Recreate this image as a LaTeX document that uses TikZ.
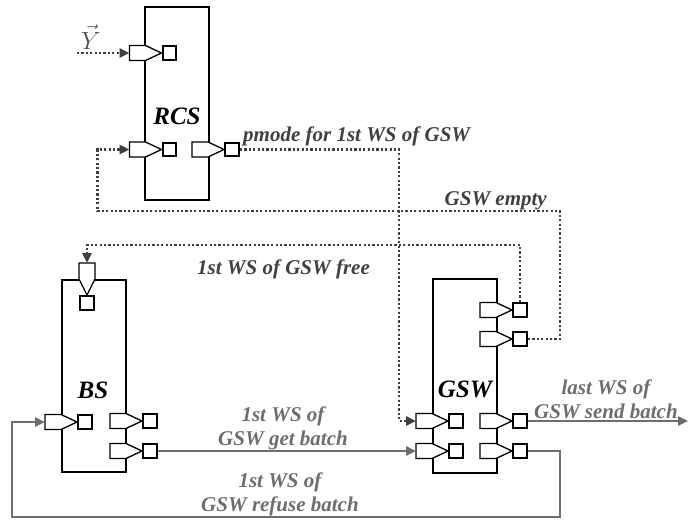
\documentclass[tikz,border=0pt]{standalone}
\usepackage{fontspec}
\setmainfont{Liberation Serif}
\usetikzlibrary{arrows.meta, positioning}

\definecolor{sigdark}{HTML}{404040}
\definecolor{siggray}{HTML}{6E6E6E}

% port pointing east: #1 name, #2 x and #3 y of its square
\newcommand{\portE}[3]{%
  \draw[portshape] (#2-40,#3-7.5) -- (#2-24,#3-7.5) -- (#2-8,#3)
    -- (#2-24,#3+7.5) -- (#2-40,#3+7.5) -- cycle;
  \coordinate (#1-in) at (#2-40,#3);
  \node[portsq] (#1) at (#2,#3) {};
}
% port pointing south
\newcommand{\portS}[3]{%
  \draw[portshape] (#2-8,#3-40) -- (#2-8,#3-24) -- (#2,#3-8)
    -- (#2+8,#3-24) -- (#2+8,#3-40) -- cycle;
  \coordinate (#1-in) at (#2,#3-40);
  \node[portsq] (#1) at (#2,#3) {};
}

\begin{document}
\begin{tikzpicture}[x=1pt, y=-1pt,
    block/.style={draw, line width=2.6pt, minimum width=64pt, inner sep=0pt},
    blocklabel/.style={font=\fontsize{25}{27}\selectfont\bfseries\itshape},
    portshape/.style={draw, fill=white, line width=1.3pt},
    portsq/.style={draw, fill=white, line width=2.4pt, minimum size=13.5pt, inner sep=0pt},
    sigline/.style={draw=sigdark, line width=2.5pt, dash pattern=on 2.2pt off 2.2pt,
      -{Triangle[length=10pt, width=9pt]}},
    dataline/.style={draw=siggray, line width=2.4pt,
      -{Triangle[length=10pt, width=9pt]}},
    siglabel/.style={sigdark, inner sep=0pt, font=\fontsize{21}{24}\selectfont\bfseries\itshape},
    datalabel/.style={siggray, inner sep=0pt, align=center,
      font=\fontsize{21}{24}\selectfont\bfseries\itshape}]
  \useasboundingbox (0,0) rectangle (689,520);

  % blocks
  \node[block, minimum height=193pt] (rcs) at (177,103.5) {};
  \node[block, minimum height=192pt] (bs) at (94,376) {};
  \node[block, minimum height=194pt] (gsw) at (465,376) {};
  \node[blocklabel] (rcs-lbl) at (177,116) {RCS};
  \node[blocklabel] (bs-lbl) at (93,390) {BS};
  \node[blocklabel] (gsw-lbl) at (465,389) {GSW};

  % RCS ports
  \portE{rcsY}{169.5}{53}
  \portE{rcsF}{169.5}{149.5}
  \portE{rcsP}{232}{149.5}
  % BS ports
  \portS{bsT}{87}{303}
  \portE{bsL}{85}{422}
  \portE{bsA}{150}{421}
  \portE{bsB}{150}{451}
  % GSW ports
  \portE{gswF}{520}{310}
  \portE{gswE}{520}{339}
  \portE{gswA}{456}{421}
  \portE{gswB}{456}{451}
  \portE{gswAr}{520}{421}
  \portE{gswBr}{520}{451}

  % dotted signals
  \coordinate (y-src) at (77,53);
  \node[text=black!68, inner sep=0pt, font=\fontsize{27}{29}\selectfont] (y-lbl) at (91,37) {$\vec{Y}$};
  \draw[sigline] (y-src) -- (rcsY-in);
  \draw[sigline] (rcsP.east) -| ([xshift=-17pt]gswA-in) -- (gswA-in);
  \draw[sigline] (gswE.east) -| (560,211) -| ([xshift=-32pt]rcsF-in) -- (rcsF-in);
  \draw[sigline] (gswF.north) |- ([yshift=18pt]bsT-in) -- (bsT-in);
  \node[siglabel, anchor=base west] (pmode-lbl) at (243,141) {pmode for 1st WS of GSW};
  \node[siglabel, anchor=base east] (empty-lbl) at (547,205) {GSW empty};
  \node[siglabel, anchor=base west] (free-lbl) at (197,274) {1st WS of GSW free};

  % batch flow
  \coordinate (send-out) at (688,421);
  \draw[dataline] (bsB.east) -- (gswB-in);
  \draw[dataline] (gswBr.east) -| (560,517) -| ([xshift=-33pt]bsL-in) -- (bsL-in);
  \draw[dataline] (gswAr.east) -- (send-out);
  \node[datalabel, anchor=south] (get-lbl) at (283,450) {1st WS of\\GSW get batch};
  \node[datalabel, anchor=south] (refuse-lbl) at (280,516) {1st WS of\\GSW refuse batch};
  \node[datalabel, anchor=south] (send-lbl) at (606,419) {last WS of\\GSW send batch};
\end{tikzpicture}
\end{document}
